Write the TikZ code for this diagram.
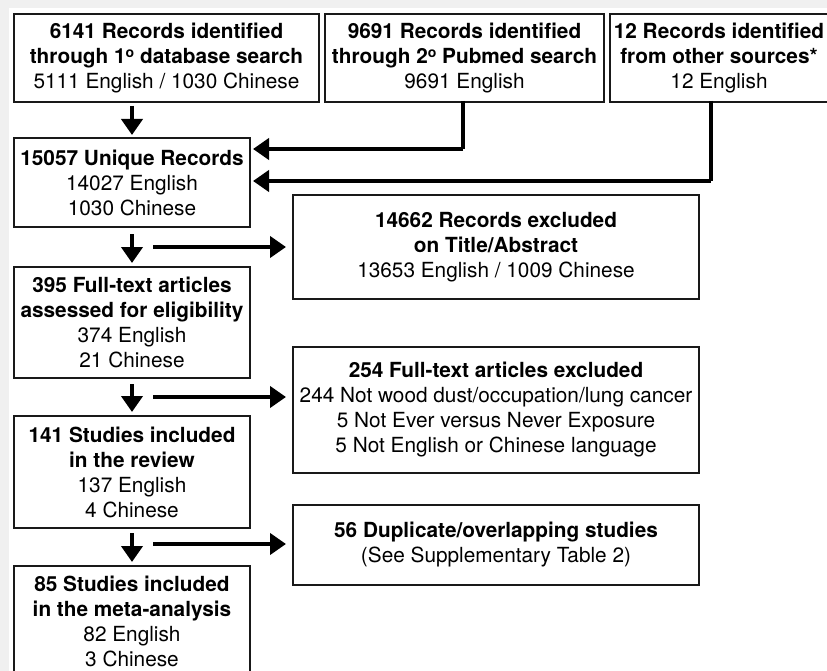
\documentclass[tikz,border=0pt]{standalone}
\usepackage{fontspec}
\setmainfont{TeX Gyre Heros}
\usetikzlibrary{arrows.meta}
\newcommand{\ordo}{\raisebox{0.55ex}{\fontsize{14}{14}\selectfont o}}
\begin{document}
\begin{tikzpicture}[x=1pt,y=-1pt,
  box/.style={draw=black!90, line width=2pt, anchor=north west, inner sep=0pt, align=center,
    font=\fontsize{20.8}{25}\selectfont},
  arr/.style={line width=4pt, -{Triangle[width=21pt,length=16pt]}},
  conn/.style={line width=4pt}]
\useasboundingbox (0,0) rectangle (827,671);
\clip (0,0) rectangle (827,671);
\fill[white] (0,0) rectangle (827,671);
\fill[black!6] (0,0) rectangle (9,671);
\fill[black!6] (0,0) rectangle (827,8);
\node[box, minimum width=305, minimum height=88] (b1) at (13,13)
  {\textbf{6141 Records identified}\\\textbf{through 1\ordo{} database search}\\5111 English / 1030 Chinese};
\node[box, minimum width=279, minimum height=88] (b2) at (324,13)
  {\textbf{9691 Records identified}\\\textbf{through 2\ordo{} Pubmed search}\\9691 English};
\node[box, minimum width=218, minimum height=88] (b3) at (609,13)
  {\textbf{12 Records identified}\\\textbf{from other sources*}\\12 English};
\node[box, minimum width=236, minimum height=89] (uniq) at (13,137)
  {\textbf{15057 Unique Records}\\14027 English\\1030 Chinese};
\node[box, minimum width=406, minimum height=104] (ex1) at (292,194)
  {\textbf{14662 Records excluded}\\\textbf{on Title/Abstract}\\13653 English / 1009 Chinese};
\node[box, minimum width=236, minimum height=111] (ft) at (13,266)
  {\textbf{395 Full-text articles}\\\textbf{assessed for eligibility}\\374 English\\21 Chinese};
\node[box, minimum width=406, minimum height=126] (ex2) at (292,346)
  {\textbf{254 Full-text articles excluded}\\244 Not wood dust/occupation/lung cancer\\5 Not Ever versus Never Exposure\\5 Not English or Chinese language};
\node[box, minimum width=236, minimum height=112] (rev) at (13,415)
  {\textbf{141 Studies included}\\\textbf{in the review}\\137 English\\4 Chinese};
\node[box, minimum width=406, minimum height=80] (dup) at (292,504)
  {\textbf{56 Duplicate/overlapping studies}\\(See Supplementary Table 2)};
\node[box, minimum width=236, minimum height=111] (meta) at (13,565)
  {\textbf{85 Studies included}\\\textbf{in the meta-analysis}\\82 English\\3 Chinese};
% connectors
\coordinate (c2) at (463,101);
\coordinate (c2b) at (463,149);
\coordinate (c3) at (711,101);
\coordinate (c3b) at (711,181);
\coordinate (s1) at (153,247);
\coordinate (s2) at (153,397);
\coordinate (s3) at (153,544);
\draw[arr, shorten <=3pt, shorten >=2pt] (b1.south -| uniq.north) -- (uniq.north);
\draw[conn] (c2) -- (c2b);
\draw[arr, shorten >=2pt] (c2b) -- (c2b -| uniq.east);
\draw[conn] (c3) -- (c3b);
\draw[arr, shorten >=2pt] (c3b) -- (c3b -| uniq.east);
\draw[arr, shorten <=6pt, shorten >=3pt] (uniq.south) -- (ft.north);
\draw[arr, shorten <=5pt, shorten >=3pt] (ft.south) -- (rev.north);
\draw[arr, shorten <=4pt, shorten >=3pt] (rev.south) -- (meta.north);
\draw[arr, shorten >=6pt] (s1) -- (s1 -| ex1.west);
\draw[arr, shorten >=6pt] (s2) -- (s2 -| ex2.west);
\draw[arr, shorten >=6pt] (s3) -- (s3 -| dup.west);
\end{tikzpicture}
\end{document}
